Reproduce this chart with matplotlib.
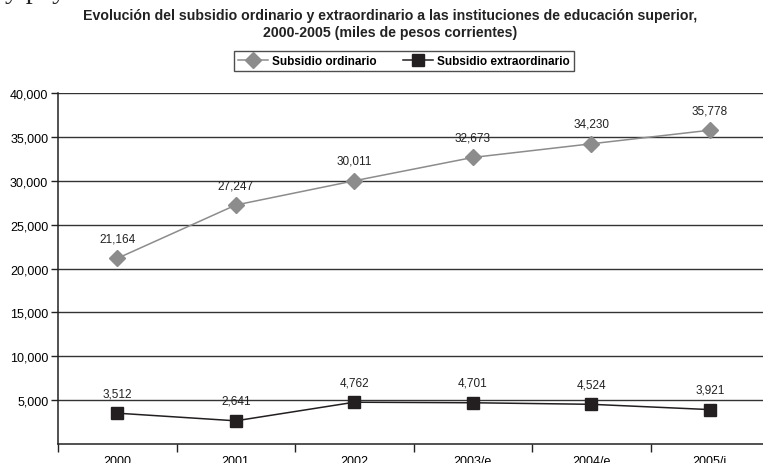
import matplotlib.pyplot as plt
from matplotlib.ticker import FuncFormatter

years = ["2000", "2001", "2002", "2003/e", "2004/e", "2005/i"]
ordinario = [21164, 27247, 30011, 32673, 34230, 35778]
extraordinario = [3512, 2641, 4762, 4701, 4524, 3921]
y_ticks = [5000, 10000, 15000, 20000, 25000, 30000, 35000, 40000]

plt.rcParams['font.family'] = ['Liberation Sans', 'DejaVu Sans']

fig = plt.figure(figsize=(7.63, 4.64), dpi=100)
ax = fig.add_axes([0.076, 0.041, 0.932, 0.756])

x = list(range(len(years)))
gris = '#8c8c8c'
negro = '#231f20'

ax.plot(x, ordinario, color=gris, lw=1.1, marker='D', markersize=8,
        markerfacecolor=gris, markeredgecolor=gris, label='Subsidio ordinario', zorder=3)
ax.plot(x, extraordinario, color=negro, lw=1.1, marker='s', markersize=9,
        markerfacecolor=negro, markeredgecolor=negro, label='Subsidio extraordinario', zorder=3)

for xi, v in zip(x, ordinario):
    ax.annotate(f"{v:,}", (xi, v), xytext=(0, 10), textcoords='offset points',
                ha='center', va='bottom', fontsize=8.5, color='#222222')
for xi, v in zip(x, extraordinario):
    ax.annotate(f"{v:,}", (xi, v), xytext=(0, 10), textcoords='offset points',
                ha='center', va='bottom', fontsize=8.5, color='#222222')

ax.set_xlim(-0.5, 5.5)
ax.set_ylim(0, 40000)
ax.set_yticks(y_ticks)
ax.yaxis.set_major_formatter(FuncFormatter(lambda v, p: f"{int(v):,}"))
ax.yaxis.grid(True, color='#333333', lw=1.0)
ax.set_axisbelow(True)

# category labels centred, tick marks between categories
ax.set_xticks(x)
ax.set_xticklabels(years)
ax.set_xticks([i + 0.5 for i in range(-1, len(years))], minor=True)
ax.tick_params(axis='x', which='major', length=0, pad=8, labelsize=9)
ax.tick_params(axis='x', which='minor', length=6, width=1, color='#222222')
ax.tick_params(axis='y', length=5, width=1, color='#222222', labelsize=9, pad=2)

for s in ['top', 'right']:
    ax.spines[s].set_visible(False)
for s in ['left', 'bottom']:
    ax.spines[s].set_color('#222222')
    ax.spines[s].set_linewidth(1.1)

fig.text(0.511, 0.966, "Evolución del subsidio ordinario y extraordinario a las instituciones de educación superior,",
         ha='center', va='center', fontsize=10.2, fontweight='bold', color='#222222')
fig.text(0.511, 0.928, "2000-2005 (miles de pesos corrientes)",
         ha='center', va='center', fontsize=10.2, fontweight='bold', color='#222222')

# fragment of the surrounding page text
fig.text(0.006, 1.004, "y pay", ha='left', va='baseline', fontsize=20,
         family='Liberation Serif', color='#222222')

leg = fig.legend(loc='center', bbox_to_anchor=(0.529, 0.866), ncol=2, frameon=True,
                 fancybox=False, edgecolor='#222222', fontsize=8.5, handlelength=2.6,
                 columnspacing=2.2, borderpad=0.35, handletextpad=0.3)
leg.get_frame().set_linewidth(1.0)
for t in leg.get_texts():
    t.set_fontweight('bold')

fig.savefig('out.png', dpi=100)
